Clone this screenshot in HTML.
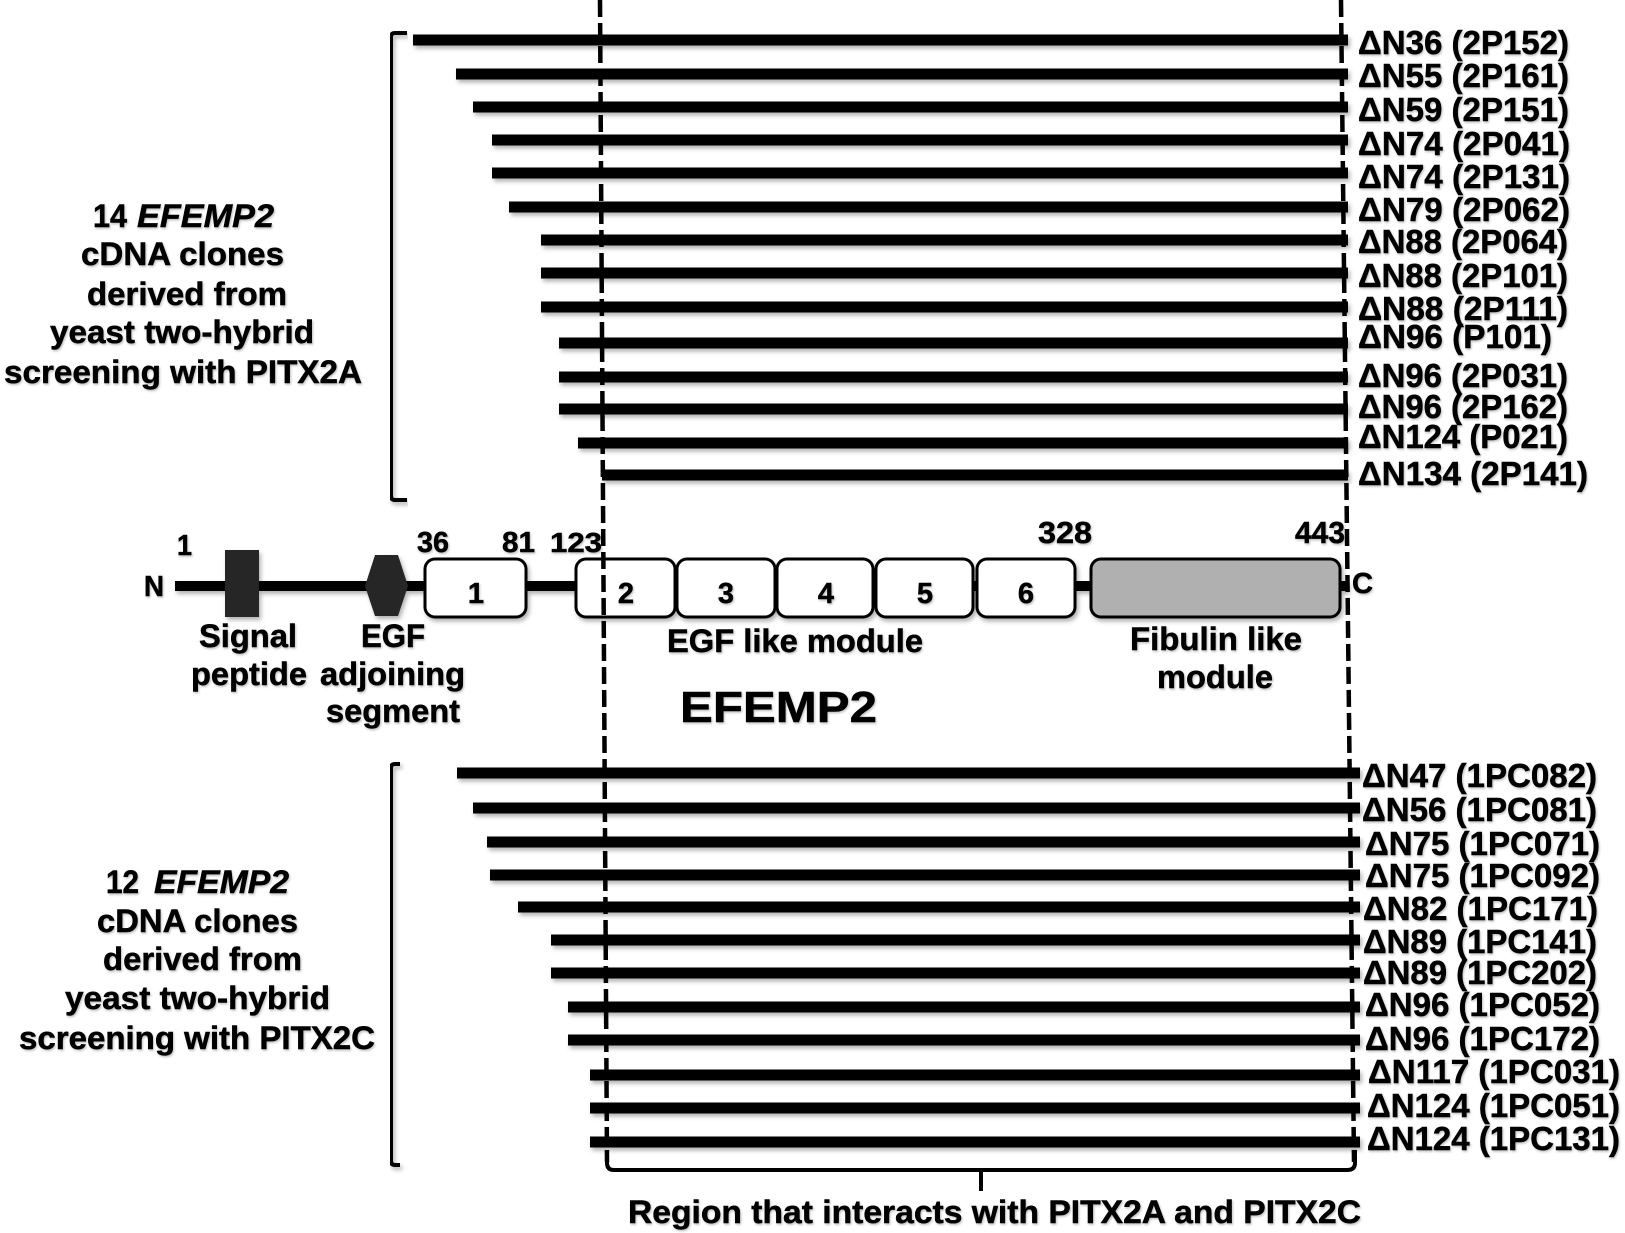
<!DOCTYPE html>
<html>
<head>
<meta charset="utf-8">
<style>
  html, body { margin:0; padding:0; background:#fff; }
  svg { display:block; }
  text { font-family: "Liberation Sans", Arial, sans-serif; font-weight: bold; fill:#000; stroke:#000; stroke-width:0.5; }
</style>
</head>
<body>
<svg width="1625" height="1233" viewBox="0 0 1625 1233" xmlns="http://www.w3.org/2000/svg">
  <defs>
    <filter id="sh" x="-5%" y="-50%" width="110%" height="200%">
      <feDropShadow dx="2" dy="3" stdDeviation="2" flood-color="#000" flood-opacity="0.3"/>
    </filter>
    <filter id="tsh" x="-5%" y="-30%" width="110%" height="160%">
      <feDropShadow dx="1" dy="1.5" stdDeviation="1" flood-color="#000" flood-opacity="0.25"/>
    </filter>
  </defs>
  <rect width="1625" height="1233" fill="#fff"/>

  <!-- Top clone bars -->
  <g stroke="#000" stroke-width="11" filter="url(#sh)">
    <line x1="413" y1="40" x2="1348" y2="40"/>
    <line x1="456" y1="74" x2="1348" y2="74"/>
    <line x1="473" y1="107" x2="1348" y2="107"/>
    <line x1="492" y1="140" x2="1348" y2="140"/>
    <line x1="492" y1="173" x2="1348" y2="173"/>
    <line x1="509" y1="207" x2="1348" y2="207"/>
    <line x1="541" y1="240" x2="1348" y2="240"/>
    <line x1="541" y1="273" x2="1348" y2="273"/>
    <line x1="541" y1="307" x2="1348" y2="307"/>
    <line x1="559" y1="343" x2="1348" y2="343"/>
    <line x1="559" y1="377" x2="1348" y2="377"/>
    <line x1="559" y1="409" x2="1348" y2="409"/>
    <line x1="578" y1="443" x2="1348" y2="443"/>
    <line x1="602" y1="475" x2="1348" y2="475"/>
  </g>

  <!-- Bottom clone bars -->
  <g stroke="#000" stroke-width="11" filter="url(#sh)">
    <line x1="457" y1="773" x2="1360" y2="773"/>
    <line x1="473" y1="808" x2="1360" y2="808"/>
    <line x1="487" y1="842" x2="1360" y2="842"/>
    <line x1="490" y1="875" x2="1360" y2="875"/>
    <line x1="518" y1="907" x2="1360" y2="907"/>
    <line x1="551" y1="940" x2="1360" y2="940"/>
    <line x1="551" y1="973" x2="1360" y2="973"/>
    <line x1="568" y1="1007" x2="1360" y2="1007"/>
    <line x1="568" y1="1040" x2="1360" y2="1040"/>
    <line x1="590" y1="1075" x2="1360" y2="1075"/>
    <line x1="590" y1="1108" x2="1360" y2="1108"/>
    <line x1="590" y1="1142" x2="1360" y2="1142"/>
  </g>

  <!-- Brackets -->
  <g fill="none" stroke="#000" stroke-width="4" filter="url(#sh)">
    <path d="M407,33 H395 Q391,33 391,37 V496 Q391,500 395,500 H407"/>
    <path d="M400,764 H395 Q391,764 391,768 V1161 Q391,1165 395,1165 H400"/>
  </g>

  <!-- Protein backbone -->
  <g filter="url(#sh)">
    <line x1="175" y1="586" x2="1348" y2="586" stroke="#000" stroke-width="10"/>
    <rect x="225" y="550" width="34" height="67" fill="#262626"/>
    <polygon points="375,555 398,555 408,586 398,616 375,616 365,586" fill="#262626"/>
    <g stroke="#000" stroke-width="3" fill="#fff">
      <rect x="425" y="559" width="101" height="58" rx="10"/>
      <rect x="576" y="559" width="99" height="58" rx="10"/>
      <rect x="677" y="559" width="98" height="58" rx="10"/>
      <rect x="777" y="559" width="96" height="58" rx="10"/>
      <rect x="876" y="559" width="97" height="58" rx="10"/>
      <rect x="977" y="559" width="98" height="58" rx="10"/>
      <rect x="1091" y="559" width="249" height="58" rx="10" fill="#b0b0b0"/>
    </g>
  </g>

  <!-- Dashed region lines -->
  <g stroke="#000" stroke-width="4.5" stroke-dasharray="17 6" fill="none">
    <line x1="600" y1="0" x2="607" y2="1162"/>
    <line x1="1341" y1="0" x2="1354" y2="1162"/>
  </g>

  <!-- Bottom brace -->
  <g fill="none" stroke="#000" stroke-width="4">
    <path d="M607,1150 V1163 Q607,1170 614,1170 H1347 Q1355,1170 1355,1163 V1150"/>
    <line x1="981" y1="1170" x2="981" y2="1191"/>
  </g>

  <g filter="url(#tsh)">
  <!-- Domain numbers -->
  <g font-size="29" text-anchor="middle">
    <text x="476" y="603">1</text>
    <text x="626" y="603">2</text>
    <text x="726" y="603">3</text>
    <text x="826" y="603">4</text>
    <text x="925" y="603">5</text>
    <text x="1026" y="603">6</text>
  </g>

  <!-- Position labels -->
  <text x="177" y="555" font-size="29" textLength="15" lengthAdjust="spacingAndGlyphs">1</text>
  <text x="417" y="552" font-size="29" textLength="32" lengthAdjust="spacingAndGlyphs">36</text>
  <text x="502" y="552" font-size="29" textLength="33" lengthAdjust="spacingAndGlyphs">81</text>
  <text x="550" y="552" font-size="28" textLength="52" lengthAdjust="spacingAndGlyphs">123</text>
  <text x="1038" y="543" font-size="31" textLength="54" lengthAdjust="spacingAndGlyphs">328</text>
  <text x="1295" y="543" font-size="31" textLength="50" lengthAdjust="spacingAndGlyphs">443</text>
  <text x="144" y="596" font-size="29" textLength="20" lengthAdjust="spacingAndGlyphs">N</text>
  <text x="1352" y="593" font-size="29" textLength="21" lengthAdjust="spacingAndGlyphs">C</text>

  <!-- Domain captions -->
  <g font-size="32">
    <text x="199" y="647" textLength="98" lengthAdjust="spacingAndGlyphs">Signal</text>
    <text x="361" y="647" textLength="64" lengthAdjust="spacingAndGlyphs">EGF</text>
    <text x="191" y="685" textLength="116" lengthAdjust="spacingAndGlyphs">peptide</text>
    <text x="320" y="685" textLength="145" lengthAdjust="spacingAndGlyphs">adjoining</text>
    <text x="326" y="722" textLength="134" lengthAdjust="spacingAndGlyphs">segment</text>
    <text x="667" y="652" textLength="256" lengthAdjust="spacingAndGlyphs">EGF like module</text>
    <text x="1130" y="650" textLength="172" lengthAdjust="spacingAndGlyphs">Fibulin like</text>
    <text x="1157" y="688" textLength="116" lengthAdjust="spacingAndGlyphs">module</text>
  </g>
  <text x="680" y="722" font-size="44" textLength="197" lengthAdjust="spacingAndGlyphs">EFEMP2</text>

  <!-- Region caption -->
  <text x="628" y="1223" font-size="32" textLength="733" lengthAdjust="spacingAndGlyphs">Region that interacts with PITX2A and PITX2C</text>

  <!-- Left text block top -->
  <g font-size="32">
    <text x="93" y="227" textLength="34" lengthAdjust="spacingAndGlyphs">14</text>
    <text x="137" y="227" font-style="italic" textLength="137" lengthAdjust="spacingAndGlyphs">EFEMP2</text>
    <text x="81" y="265" textLength="203" lengthAdjust="spacingAndGlyphs">cDNA clones</text>
    <text x="87" y="305" textLength="200" lengthAdjust="spacingAndGlyphs">derived from</text>
    <text x="50" y="343" textLength="264" lengthAdjust="spacingAndGlyphs">yeast two-hybrid</text>
    <text x="4" y="383" textLength="358" lengthAdjust="spacingAndGlyphs">screening with PITX2A</text>
  </g>

  <!-- Left text block bottom -->
  <g font-size="32">
    <text x="106" y="893" textLength="33" lengthAdjust="spacingAndGlyphs">12</text>
    <text x="154" y="893" font-style="italic" textLength="135" lengthAdjust="spacingAndGlyphs">EFEMP2</text>
    <text x="97" y="932" textLength="201" lengthAdjust="spacingAndGlyphs">cDNA clones</text>
    <text x="103" y="970" textLength="199" lengthAdjust="spacingAndGlyphs">derived from</text>
    <text x="65" y="1009" textLength="265" lengthAdjust="spacingAndGlyphs">yeast two-hybrid</text>
    <text x="19" y="1049" textLength="356" lengthAdjust="spacingAndGlyphs">screening with PITX2C</text>
  </g>

  <!-- Top clone labels -->
  <g font-size="33">
    <text x="1358" y="54" textLength="211" lengthAdjust="spacingAndGlyphs">ΔN36 (2P152)</text>
    <text x="1358" y="87" textLength="211" lengthAdjust="spacingAndGlyphs">ΔN55 (2P161)</text>
    <text x="1358" y="121" textLength="211" lengthAdjust="spacingAndGlyphs">ΔN59 (2P151)</text>
    <text x="1358" y="155" textLength="212" lengthAdjust="spacingAndGlyphs">ΔN74 (2P041)</text>
    <text x="1358" y="188" textLength="212" lengthAdjust="spacingAndGlyphs">ΔN74 (2P131)</text>
    <text x="1358" y="221" textLength="212" lengthAdjust="spacingAndGlyphs">ΔN79 (2P062)</text>
    <text x="1358" y="253" textLength="210" lengthAdjust="spacingAndGlyphs">ΔN88 (2P064)</text>
    <text x="1358" y="287" textLength="210" lengthAdjust="spacingAndGlyphs">ΔN88 (2P101)</text>
    <text x="1358" y="320" textLength="210" lengthAdjust="spacingAndGlyphs">ΔN88 (2P111)</text>
    <text x="1358" y="348" textLength="194" lengthAdjust="spacingAndGlyphs">ΔN96 (P101)</text>
    <text x="1358" y="387" textLength="210" lengthAdjust="spacingAndGlyphs">ΔN96 (2P031)</text>
    <text x="1358" y="418" textLength="210" lengthAdjust="spacingAndGlyphs">ΔN96 (2P162)</text>
    <text x="1358" y="448" textLength="210" lengthAdjust="spacingAndGlyphs">ΔN124 (P021)</text>
    <text x="1358" y="485" textLength="230" lengthAdjust="spacingAndGlyphs">ΔN134 (2P141)</text>
  </g>

  <!-- Bottom clone labels -->
  <g font-size="33">
    <text x="1362" y="787" textLength="235" lengthAdjust="spacingAndGlyphs">ΔN47 (1PC082)</text>
    <text x="1362" y="821" textLength="235" lengthAdjust="spacingAndGlyphs">ΔN56 (1PC081)</text>
    <text x="1365" y="855" textLength="235" lengthAdjust="spacingAndGlyphs">ΔN75 (1PC071)</text>
    <text x="1365" y="887" textLength="235" lengthAdjust="spacingAndGlyphs">ΔN75 (1PC092)</text>
    <text x="1363" y="920" textLength="235" lengthAdjust="spacingAndGlyphs">ΔN82 (1PC171)</text>
    <text x="1363" y="953" textLength="234" lengthAdjust="spacingAndGlyphs">ΔN89 (1PC141)</text>
    <text x="1363" y="984" textLength="234" lengthAdjust="spacingAndGlyphs">ΔN89 (1PC202)</text>
    <text x="1365" y="1016" textLength="235" lengthAdjust="spacingAndGlyphs">ΔN96 (1PC052)</text>
    <text x="1365" y="1050" textLength="235" lengthAdjust="spacingAndGlyphs">ΔN96 (1PC172)</text>
    <text x="1368" y="1083" textLength="252" lengthAdjust="spacingAndGlyphs">ΔN117 (1PC031)</text>
    <text x="1367" y="1117" textLength="253" lengthAdjust="spacingAndGlyphs">ΔN124 (1PC051)</text>
    <text x="1367" y="1150" textLength="253" lengthAdjust="spacingAndGlyphs">ΔN124 (1PC131)</text>
  </g>
  </g>
</svg>
</body>
</html>
